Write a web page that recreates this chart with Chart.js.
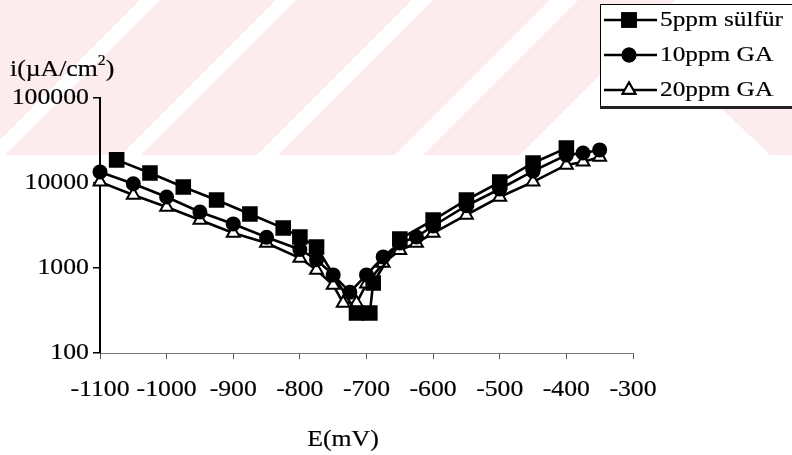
<!DOCTYPE html>
<html>
<head>
<meta charset="utf-8">
<script src="https://cdn.jsdelivr.net/npm/chart.js@4.4.1/dist/chart.umd.min.js"></script>
<style>
  html, body { margin: 0; padding: 0; background: #ffffff; }
  #wrap { position: relative; width: 792px; height: 455px; }
</style>
</head>
<body>
<div id="wrap"><canvas id="chart" width="792" height="455"></canvas></div>
<script>
// Polarisation curves: potential E (mV) against current density i (µA/cm²)
const seriesNames = ['5ppm sülfür', '10ppm GA', '20ppm GA'];

const sulfurE = [-1075, -1025, -975, -925, -875, -825, -800, -775, -715, -695, -690, -650, -600, -550, -500, -450, -400];
const sulfurI = [18700, 13100, 8980, 6300, 4310, 2950, 2320, 1770, 295, 295, 666, 2190, 3670, 6310, 10240, 17200, 25700];

const ga10E = [-1100, -1050, -1000, -950, -900, -850, -800, -775, -750, -725, -700, -675, -650, -625, -600, -550, -500, -450, -400, -375, -350];
const ga10I = [13500, 9800, 6840, 4560, 3300, 2300, 1650, 1250, 830, 520, 830, 1350, 1970, 2320, 3120, 5400, 8500, 13800, 21300, 22500, 24500];

const ga20E = [-1100, -1050, -1000, -950, -900, -850, -800, -775, -750, -735, -715, -700, -675, -650, -625, -600, -550, -500, -450, -400, -375, -350];
const ga20I = [10300, 7230, 5220, 3670, 2580, 1970, 1310, 946, 630, 387, 387, 650, 1140, 1620, 1970, 2580, 4210, 6840, 10300, 16300, 17700, 20200];

const xTickValues = [-1100, -1000, -900, -800, -700, -600, -500, -400, -300];
const yTickValues = [100, 1000, 10000, 100000];

const yTitle = 'i(µA/cm';
const yTitleSup = '2';
const xTitle = 'E(mV)';

const FONT = '"Liberation Serif", "Times New Roman", serif';
const HSCALE = 1.12;

function pts(xs, ys) { return xs.map((x, k) => ({ x: x, y: ys[k] })); }

// slightly widened serif text, as in the printed figure
function text(ctx, str, x, y, size, align, hs) {
  const h = hs || HSCALE;
  ctx.save();
  ctx.font = size + 'px ' + FONT;
  ctx.fillStyle = '#000';
  ctx.strokeStyle = '#000';
  ctx.lineWidth = 0.2;
  ctx.textBaseline = 'middle';
  const w = ctx.measureText(str).width * h;
  let left = x;
  if (align === 'center') left = x - w / 2;
  else if (align === 'right') left = x - w;
  ctx.translate(left, y);
  ctx.scale(h, 1);
  ctx.textAlign = 'left';
  ctx.fillText(str, 0, 0);
  ctx.strokeText(str, 0, 0);
  ctx.restore();
  return w;
}

const styles = [
  { pointStyle: 'rect', pointRadius: 9.6, bg: '#000' },
  { pointStyle: 'circle', pointRadius: 6.5, bg: '#000' },
  { pointStyle: 'triangle', pointRadius: 7.4, bg: '#fff' }
];

const datasets = [pts(sulfurE, sulfurI), pts(ga10E, ga10I), pts(ga20E, ga20I)].map((d, k) => ({
  label: seriesNames[k],
  data: d,
  showLine: true,
  borderColor: '#000',
  borderWidth: 2.6,
  pointStyle: styles[k].pointStyle,
  pointRadius: styles[k].pointRadius,
  pointHoverRadius: styles[k].pointRadius,
  pointBackgroundColor: styles[k].bg,
  pointBorderColor: '#000',
  pointBorderWidth: 2,
  clip: false
}));

// faint diagonal background bands in the upper part of the page
const bandsPlugin = {
  id: 'bands',
  beforeDraw(chart) {
    const ctx = chart.ctx;
    const H = 155;
    ctx.save();
    ctx.fillStyle = '#fdecee';
    // bands run along lines x + y = const
    const pink = [[0, 140], [160, 276], [296, 412], [433, 550], [578, 675]];
    pink.forEach(([a, b]) => {
      ctx.beginPath();
      ctx.moveTo(a, 0); ctx.lineTo(b, 0);
      ctx.lineTo(b - H, H); ctx.lineTo(a - H, H);
      ctx.closePath(); ctx.fill();
    });
    // band under the key box leaning the other way
    ctx.beginPath();
    ctx.moveTo(720, 107); ctx.lineTo(792, 107);
    ctx.lineTo(792, 155); ctx.lineTo(770, 155);
    ctx.closePath(); ctx.fill();
    ctx.restore();
  }
};

const decorPlugin = {
  id: 'decor',
  afterDraw(chart) {
    const ctx = chart.ctx;
    const xs = chart.scales.x, ys = chart.scales.y;
    // tick labels
    xTickValues.forEach(v => text(ctx, String(v), xs.getPixelForValue(v), 390, 23, 'center'));
    yTickValues.forEach(v => text(ctx, String(v), 89, ys.getPixelForValue(v), 23, 'right'));
    // axis titles
    const w = text(ctx, yTitle, 10, 70, 23, 'left');
    const w2 = text(ctx, yTitleSup, 10 + w, 61, 14, 'left');
    text(ctx, ')', 10 + w + w2, 70, 23, 'left');
    text(ctx, xTitle, 343, 440, 23, 'center');

    // key box
    ctx.save();
    ctx.fillStyle = '#fff';
    ctx.fillRect(600, 4, 192, 103);
    ctx.strokeStyle = '#000';
    ctx.lineWidth = 1;
    ctx.strokeRect(600.5, 4.5, 200, 102);
    ctx.fillStyle = '#222';
    ctx.fillRect(600, 106, 192, 3);
    ctx.restore();
    const rows = [20, 55, 90];
    chart.data.datasets.forEach((ds, k) => {
      const y = rows[k];
      ctx.save();
      ctx.strokeStyle = '#000';
      ctx.lineWidth = 2.6;
      ctx.beginPath(); ctx.moveTo(604, y); ctx.lineTo(657, y); ctx.stroke();
      ctx.fillStyle = ds.pointBackgroundColor;
      ctx.lineWidth = 2;
      Chart.helpers.drawPoint(ctx, { pointStyle: ds.pointStyle, radius: ds.pointRadius, borderWidth: 2 }, 629, y);
      ctx.fill();
      ctx.stroke();
      ctx.restore();
      text(ctx, ds.label, 660, y, 22, 'left', 1.15);
    });
  }
};

new Chart(document.getElementById('chart'), {
  type: 'scatter',
  data: { datasets: datasets },
  options: {
    responsive: false,
    animation: false,
    events: [],
    layout: { padding: { left: 0, top: 98, right: 159, bottom: 0 } },
    plugins: { legend: { display: false }, tooltip: { enabled: false } },
    scales: {
      x: {
        type: 'linear',
        min: -1100, max: -300,
        afterBuildTicks(scale) { scale.ticks = xTickValues.map(v => ({ value: v })); },
        afterFit(scale) { scale.height = 102; },
        ticks: { display: false },
        grid: { drawOnChartArea: false, drawTicks: true, tickLength: 6, color: '#555', lineWidth: 1 },
        border: { display: true, color: '#777', width: 1 }
      },
      y: {
        type: 'logarithmic',
        min: 100, max: 100000,
        afterBuildTicks(scale) { scale.ticks = yTickValues.map(v => ({ value: v })); },
        afterFit(scale) { scale.width = 100; },
        ticks: { display: false },
        grid: { drawOnChartArea: false, drawTicks: true, tickLength: 7, color: '#000', lineWidth: 1.5 },
        border: { display: true, color: '#000', width: 2 }
      }
    }
  },
  plugins: [bandsPlugin, decorPlugin]
});
</script>
</body>
</html>
